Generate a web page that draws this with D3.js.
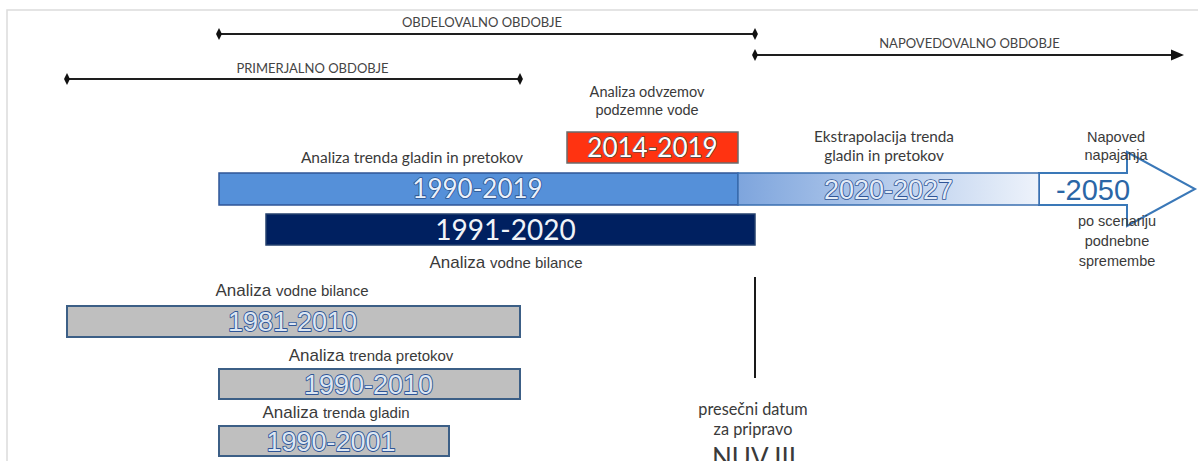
<!DOCTYPE html>
<html><head><meta charset="utf-8">
<script src="https://cdn.jsdelivr.net/npm/d3@7/dist/d3.min.js"></script>
<style>
html,body{margin:0;padding:0;background:#fff;overflow:hidden}
svg{display:block}
</style></head>
<body><svg id="c" width="1198" height="461"></svg>
<script>
// ---------- DATA ----------
const periodNames = ["PRIMERJALNO OBDOBJE", "OBDELOVALNO OBDOBJE", "NAPOVEDOVALNO OBDOBJE"];
const periodStart = [1981, 1990, 2021];
const periodEnd   = [2010, 2020, 2050];

const barLabels = ["2014-2019", "1990-2019", "2020-2027", "1991-2020", "1981-2010", "1990-2010", "1990-2001"];
const barStart  = [2014, 1990, 2020, 1991, 1981, 1990, 1990];
const barEnd    = [2019, 2019, 2027, 2020, 2010, 2010, 2001];
const barRow    = ["odvzem", "trend", "trend", "bilanca", "g1", "g2", "g3"];
const barKind   = ["red", "blue", "fade", "navy", "gray", "gray", "gray"];

const forecastLabel = "-2050";
const forecastStart = 2028, forecastEnd = 2050;
const cutoffYear = 2021;

// ---------- SCALES (schematic, piecewise) ----------
const x = d3.scaleLinear()
  .domain([1981, 1990, 1991, 2002, 2011, 2014, 2020, 2021, 2028, 2051])
  .range([67, 219, 266, 449, 520, 567, 738, 755, 1039, 1196]);
const rows = ["odvzem", "trend", "bilanca", "g1", "g2", "g3"];
const yRow = d3.scaleOrdinal().domain(rows).range([132, 173, 214, 306, 369, 426]);
const hRow = d3.scaleOrdinal().domain(rows).range([31, 32, 31, 31, 30, 30]);

const svg = d3.select("#c");
const defs = svg.append("defs");
const grad = defs.append("linearGradient").attr("id", "fade");
grad.append("stop").attr("offset", "0%").attr("stop-color", "#7ea5dd");
grad.append("stop").attr("offset", "100%").attr("stop-color", "#eef3fb");

// frame
svg.append("rect").attr("x", 7).attr("y", 10).attr("width", 1200).attr("height", 470)
  .attr("fill", "none").attr("stroke", "#dcdcdc").attr("stroke-width", 1.5);

const SANS = "Lato, 'Open Sans', sans-serif";
const ARIAL = "'Liberation Sans', Arial, sans-serif";
const txtCol = "#3a3a3a";

// ---------- PERIOD LINES ----------
const periodY = [79, 34, 55];
const periodLabelY = [73, 27, 48];
const periodLabelDx = [19, -5, 0];
periodNames.forEach((name, i) => {
  const x0 = x(periodStart[i]);
  const isArrow = i === 2;
  const x1 = isArrow ? x(periodEnd[i] + 1) - 12 : x(periodEnd[i] + 1);
  const y = periodY[i];
  svg.append("line").attr("x1", x0).attr("x2", isArrow ? x1 - 6 : x1).attr("y1", y).attr("y2", y)
    .attr("stroke", "#1e1e1e").attr("stroke-width", 2);
  svg.append("path").attr("d", d3.symbol(d3.symbolDiamond, 42)())
    .attr("transform", `translate(${x0},${y}) scale(0.85,1)`).attr("fill", "#111");
  if (isArrow) {
    svg.append("path").attr("d", `M${x1},${y} L${x1 - 13},${y - 5.5} L${x1 - 13},${y + 5.5} Z`).attr("fill", "#111");
  } else {
    svg.append("path").attr("d", d3.symbol(d3.symbolDiamond, 42)())
      .attr("transform", `translate(${x1},${y}) scale(0.85,1)`).attr("fill", "#111");
  }
  svg.append("text").attr("x", (x0 + x1) / 2 + periodLabelDx[i]).attr("y", periodLabelY[i])
    .attr("text-anchor", "middle").attr("font-family", SANS).attr("font-size", 13)
    .attr("fill", "#444").text(name);
});

// ---------- FORECAST ARROW ----------
{
  const xs = x(forecastStart), tip = x(forecastEnd + 1) - 1;
  const yT = yRow("trend"), h = hRow("trend"), yc = yT + h / 2;
  const headX = tip - 68, headHalf = 37;
  const p = `M${xs},${yT} L${headX},${yT} L${headX},${yc - headHalf} L${tip},${yc} L${headX},${yc + headHalf} L${headX},${yT + h} L${xs},${yT + h} Z`;
  svg.append("path").attr("d", p).attr("fill", "#fff").attr("stroke", "#3a78b8").attr("stroke-width", 2)
    .attr("stroke-linejoin", "miter");
  svg.append("text").attr("x", 1093).attr("y", yc + 11)
    .attr("text-anchor", "middle").attr("font-family", ARIAL).attr("font-size", 29)
    .attr("fill", "#2a66a6").text(forecastLabel);
}

// ---------- BARS ----------
const barStyle = {
  red:  {fill: "#ff3311", stroke: "#6b6b6b", sw: 1.5, font: SANS, size: 26, tfill: "#ffffff", tstroke: "#4a4a4a", tsw: 1.3},
  blue: {fill: "#5590d9", stroke: "#2f5597", sw: 1.5, font: SANS, size: 26, tfill: "#eaf1fb", tstroke: "#2a5290", tsw: 1.6},
  fade: {fill: "url(#fade)", stroke: "#3a6fb0", sw: 1.5, font: ARIAL, size: 27, tfill: "#e3ecf8", tstroke: "#2f5597", tsw: 1.7},
  navy: {fill: "#002060", stroke: "#24406e", sw: 1.5, font: SANS, size: 28, tfill: "#f0f3f8", tstroke: "none", tsw: 0},
  gray: {fill: "#bfbfbf", stroke: "#3c5f86", sw: 2, font: ARIAL, size: 27, tfill: "#dde7f3", tstroke: "#2f5597", tsw: 1.8}
};
const labelDx = {"2014-2019": 0, "1990-2019": -1, "2020-2027": 0, "1991-2020": -5,
                 "1981-2010": -1, "1990-2010": -1, "1990-2001": -3};

barLabels.forEach((lab, i) => {
  const s = barStyle[barKind[i]];
  const x0 = x(barStart[i]), x1 = x(barEnd[i] + 1);
  const y0 = yRow(barRow[i]), h = hRow(barRow[i]);
  svg.append("rect").attr("x", x0).attr("y", y0).attr("width", x1 - x0).attr("height", h)
    .attr("fill", s.fill).attr("stroke", s.stroke).attr("stroke-width", s.sw);
  svg.append("text").attr("x", (x0 + x1) / 2 + labelDx[lab]).attr("y", y0 + h / 2 + s.size * 0.36)
    .attr("text-anchor", "middle").attr("font-family", s.font).attr("font-size", s.size)
    .attr("fill", s.tfill).attr("stroke", s.tstroke).attr("stroke-width", s.tsw)
    .attr("paint-order", "stroke").attr("stroke-linejoin", "round").text(lab);
});

// ---------- CUTOFF LINE ----------
svg.append("line").attr("x1", x(cutoffYear)).attr("x2", x(cutoffYear)).attr("y1", 277).attr("y2", 378)
  .attr("stroke", "#1a1a1a").attr("stroke-width", 2);

// ---------- ANNOTATIONS ----------
const notes = [
  {x: 647, y: 97, step: 18, lines: [[["Analiza odvzemov", SANS, 14.5]], [["podzemne vode", ARIAL, 14.5]]]},
  {x: 412, y: 163, step: 18, lines: [[["Analiza trenda gladin in pretokov", SANS, 15.5]]]},
  {x: 884, y: 142, step: 19, lines: [[["Ekstrapolacija trenda", SANS, 15.3]], [["gladin in pretokov", SANS, 15.3]]]},
  {x: 1116, y: 142, step: 18, lines: [[["Napoved", ARIAL, 14.5]], [["napajanja", ARIAL, 14.5]]]},
  {x: 1117, y: 226, step: 20, lines: [[["po scenariju", ARIAL, 14.5]], [["podnebne", ARIAL, 14.5]], [["spremembe", ARIAL, 14.5]]]},
  {x: 506, y: 268, step: 18, lines: [[["Analiza ", ARIAL, 17], ["vodne bilance", ARIAL, 15]]]},
  {x: 292, y: 296, step: 18, lines: [[["Analiza ", ARIAL, 17], ["vodne bilance", ARIAL, 15]]]},
  {x: 371, y: 361, step: 18, lines: [[["Analiza ", ARIAL, 17], ["trenda pretokov", ARIAL, 15]]]},
  {x: 336, y: 418, step: 18, lines: [[["Analiza ", ARIAL, 17], ["trenda gladin", ARIAL, 15]]]},
  {x: 753, y: 415, step: 20, lines: [[["presečni datum", SANS, 16.3]], [["za pripravo", SANS, 16.3]]]},
  {x: 754, y: 467, step: 20, lines: [[["NUV III", SANS, 26]]]}
];
notes.forEach(n => {
  n.lines.forEach((parts, li) => {
    const t = svg.append("text").attr("x", n.x).attr("y", n.y + li * n.step)
      .attr("text-anchor", "middle").attr("fill", txtCol);
    parts.forEach(p => t.append("tspan").attr("font-family", p[1]).attr("font-size", p[2]).text(p[0]));
  });
});
</script>
</body></html>
